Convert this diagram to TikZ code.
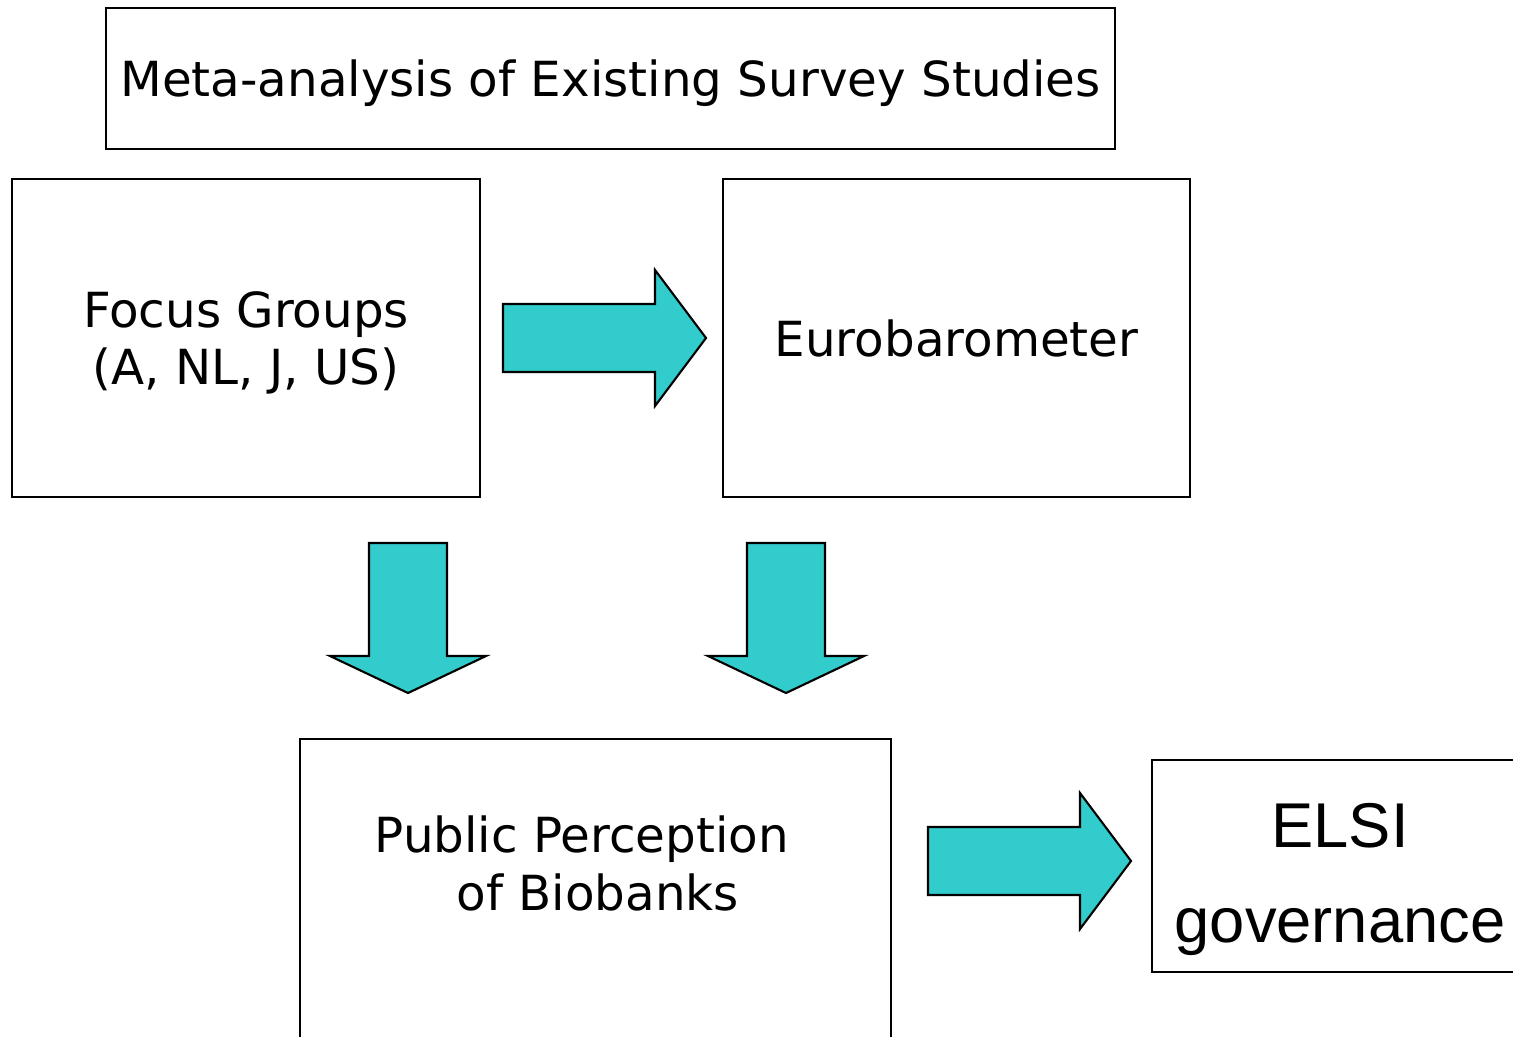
\documentclass[tikz,border=0pt]{standalone}
\usepackage{fontspec}
\setmainfont{DejaVu Sans}
\newfontfamily\elsifont{Liberation Sans}
\usepackage{tikz}
\definecolor{arrowcyan}{RGB}{51,204,204}

\begin{document}
\begin{tikzpicture}[x=0.01cm, y=-0.01cm]

   % Set up styles for the boxes and block arrows
  \tikzset{
      box/.style={draw, line width=0.5pt, inner sep=0pt, align=center, text depth=0pt,
                  font=\fontsize{13.75}{16.2}\selectfont},
      txt/.style={draw=none, inner sep=0pt, align=left,
                  font=\fontsize{13.75}{16.5}\selectfont},
      blockarrow/.style={draw, line width=0.6pt, fill=arrowcyan, line join=miter}
  }

  \useasboundingbox (0,0) rectangle (1513,1036);
  \clip (0,0) rectangle (1513,1036);

  % Boxes
  \node[box, minimum width=10.09cm, minimum height=1.41cm] (meta) at (610.5, 78.5)
      {Meta-analysis of Existing Survey Studies};
  \node[box, minimum width=4.68cm, minimum height=3.18cm] (focus) at (246, 338)
      {Focus Groups\\(A, NL, J, US)};
  \node[box, minimum width=4.67cm, minimum height=3.18cm] (euro) at (956.5, 338)
      {Eurobarometer};
  \node[box, minimum width=5.91cm, minimum height=3.21cm] (public) at (595.5, 899.5) {};
  \node[txt, anchor=north west] (publictext) at (374, 815)
      {Public Perception\\\hspace*{0.82cm}of Biobanks};
  \node[box, minimum width=3.78cm, minimum height=2.12cm] (elsi) at (1341, 866) {};
  \node[txt, align=center, anchor=north, font=\elsifont\fontsize{18}{27}\selectfont]
      (elsitext) at (1340, 803) {ELSI\\governance};

  % Block arrows to the right
  \foreach \x/\y in {503/338, 928/861} {
      \draw[blockarrow] (\x, \y-34) -- (\x+152, \y-34) -- (\x+152, \y-68)
          -- (\x+203, \y) -- (\x+152, \y+68) -- (\x+152, \y+34) -- (\x, \y+34) -- cycle;
  }

  % Block arrows downwards
  \foreach \x in {408, 786} {
      \draw[blockarrow] (\x-39, 543) -- (\x+39, 543) -- (\x+39, 656) -- (\x+78, 656)
          -- (\x, 693) -- (\x-78, 656) -- (\x-39, 656) -- cycle;
  }

\end{tikzpicture}
\end{document}
